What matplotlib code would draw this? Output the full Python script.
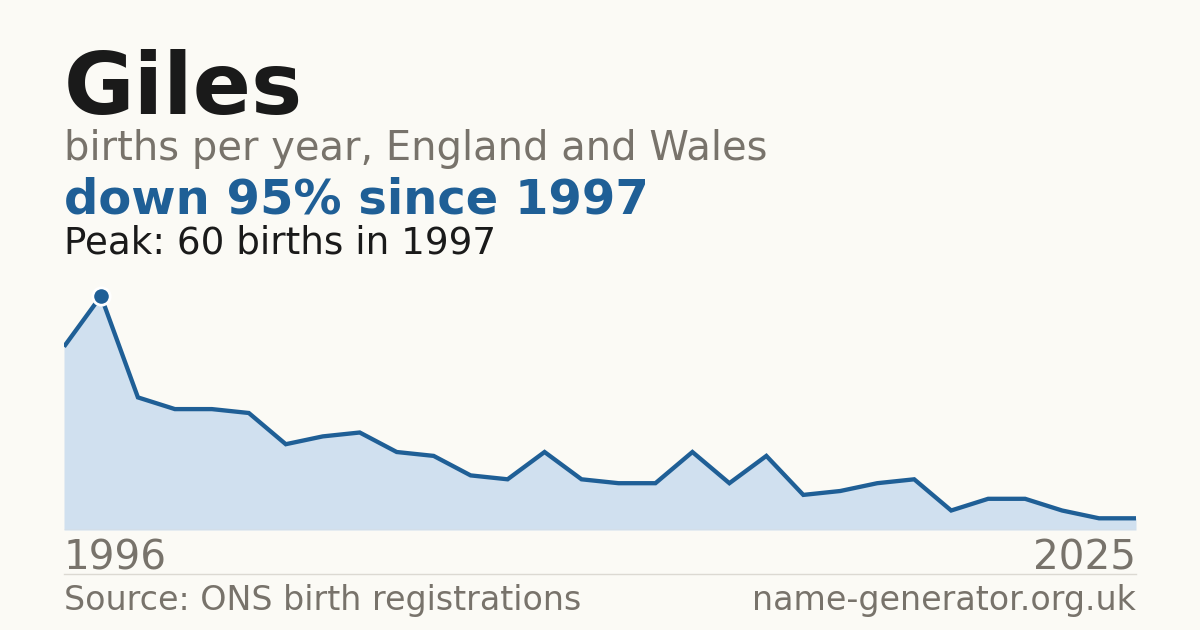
import matplotlib
matplotlib.use("Agg")
import matplotlib.pyplot as plt

years = list(range(1996, 2026))
births = [47, 60, 34, 31, 31, 30, 22, 24, 25, 20, 19, 14, 13, 20, 13, 12, 12, 20, 12, 19,
          9, 10, 12, 13, 5, 8, 8, 5, 3, 3]

title = "Giles"
subtitle = "births per year, England and Wales"
headline = "down 95% since 1997"
peak_text = "Peak: 60 births in 1997"
source = "Source: ONS birth registrations"
site = "name-generator.org.uk"

BG = "#fbfaf5"
BLUE = "#1f5f96"
FILL = "#d0e0ef"
GREY = "#78736b"
DARK = "#1a1a1a"

W, H = 1200, 630
plt.rcParams['font.family'] = ['DejaVu Sans']
fig = plt.figure(figsize=(W / 100, H / 100), dpi=100, facecolor=BG)

def px(v):
    return v * 0.72

# axes: x 64..1136, y bottom 530, top 280
ax_top, ax_bot = 280, 530
ax = fig.add_axes([64 / W, (H - ax_bot) / H, 1072 / W, (ax_bot - ax_top) / H])
ax.set_facecolor(BG)
peak = max(births)
ax.set_xlim(years[0], years[-1])
ax.set_ylim(0, peak * (ax_bot - ax_top) / (ax_bot - 296))
ax.fill_between(years, births, 0, color=FILL, lw=0)
ax.plot(years, births, color=BLUE, lw=3.1, solid_joinstyle="miter", solid_capstyle="butt")
pi = births.index(peak)
ax.plot([years[pi]], [peak], "o", ms=12.5, color=BLUE, mec="white", mew=2, clip_on=False, zorder=5)
ax.axhline(0, color="#dcd9d2", lw=1)
ax.set_axis_off()

fig.text(64 / W, 1 - 114 / H, title, fontsize=px(86), fontweight="bold", color=DARK, va="baseline", ha="left")
fig.text(64 / W, 1 - 160 / H, subtitle, fontsize=px(40), color=GREY, va="baseline", ha="left")
fig.text(64 / W, 1 - 214 / H, headline, fontsize=px(48), fontweight="bold", color=BLUE, va="baseline", ha="left")
fig.text(64 / W, 1 - 253 / H, peak_text, fontsize=px(37.3), color=DARK, va="baseline", ha="left")

fig.text(64 / W, 1 - 569 / H, str(years[0]), fontsize=px(40.5), color=GREY, va="baseline", ha="left")
fig.text(1136 / W, 1 - 569 / H, str(years[-1]), fontsize=px(40.5), color=GREY, va="baseline", ha="right")

fig.add_artist(plt.Line2D([64 / W, 1136 / W], [1 - 574 / H, 1 - 574 / H], color="#dcd9d2", lw=1))

fig.text(64 / W, 1 - 610 / H, source, fontsize=px(33.3), color=GREY, va="baseline", ha="left")
fig.text(1136 / W, 1 - 610 / H, site, fontsize=px(33.3), color=GREY, va="baseline", ha="right")

fig.savefig("out.png", dpi=100, facecolor=BG)
